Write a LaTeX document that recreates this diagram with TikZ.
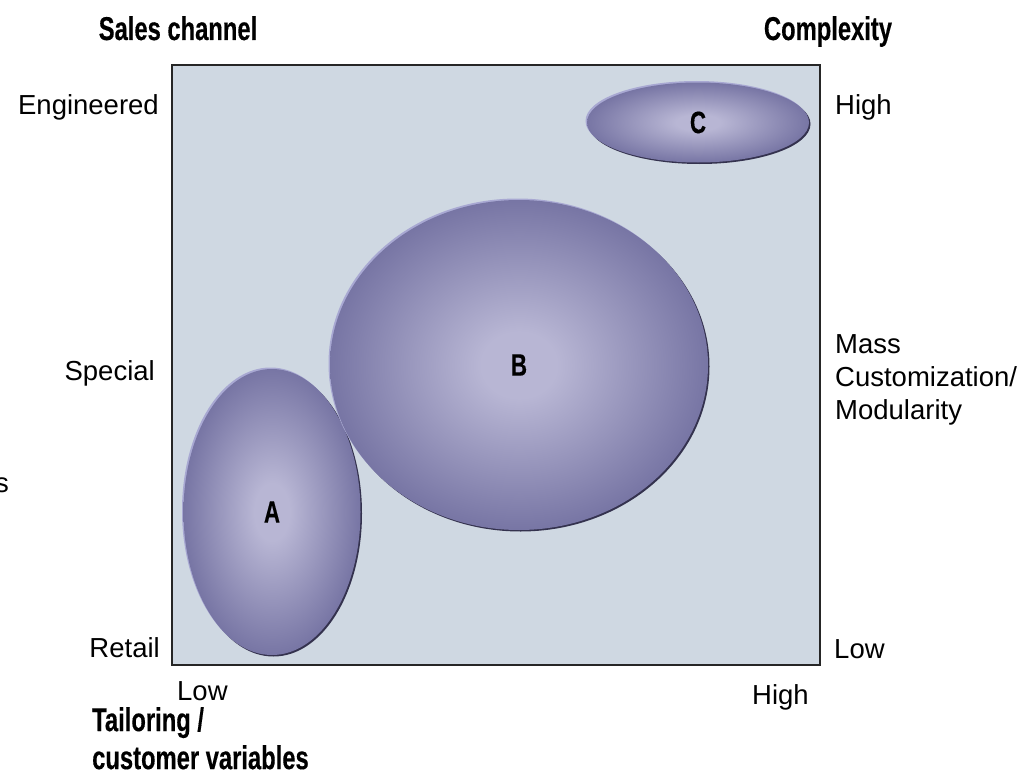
\documentclass[tikz,border=0pt]{standalone}
\usepackage{fontspec}
\setmainfont{Liberation Sans}
\newfontfamily\headfont{Liberation Sans}[FakeStretch=0.72, FakeBold=0.3]
\usetikzlibrary{shapes.geometric, positioning}
\definecolor{panelbg}{RGB}{207, 216, 226}
\definecolor{blobin}{RGB}{184, 182, 212}
\definecolor{blobout}{RGB}{100, 98, 150}
\definecolor{rimdark}{RGB}{52, 50, 78}
\definecolor{rimlight}{RGB}{168, 168, 210}
\pgfdeclareradialshading{blobshade}{\pgfpoint{0bp}{0bp}}{color(0bp)=(blobin); color(5bp)=(blobin); color(31bp)=(blobout); color(50bp)=(blobout)}

\begin{document}
\begin{tikzpicture}[
            x=1pt, y=-1pt,
            lbl/.style={inner sep=0pt, font=\fontsize{27.5}{33}\selectfont},
            head/.style={inner sep=0pt, font=\headfont\bfseries\fontsize{33}{38}\selectfont},
            blob/.style={ellipse, inner sep=0pt, shading=blobshade,
                preaction={fill=rimdark, transform canvas={shift={(1.5pt,-1.5pt)}}},
                preaction={fill=rimlight, transform canvas={shift={(-1.5pt,1.5pt)}}}},
            blobtext/.style={font=\headfont\bfseries\fontsize{31}{31}\selectfont}
        ]
            \useasboundingbox (0,0) rectangle (1028,784);
            % Panel
            \filldraw[fill=panelbg, draw=black!85, line width=1.5pt] (172,65) rectangle (820,665);

            % Blobs
            \node[blob, minimum width=177pt, minimum height=286pt] (a) at (272,512) {};
            \node[blob, minimum width=378pt, minimum height=330pt] (b) at (519,365) {};
            \node[blob, minimum width=222pt, minimum height=80pt] (c) at (698,122.5) {};
            \node[blobtext] (alab) at (a) {A};
            \node[blobtext] (blab) at (b) {B};
            \node[blobtext] (clab) at (c) {C};

            % Headings
            \node[head, anchor=base] (sales) at (178,40) {Sales channel};
            \node[head, anchor=base] (complex) at (828,40) {Complexity};
            \node[head, anchor=north west, align=left] (tailor) at (92,707) {Tailoring /\\customer variables};

            % Left scale
            \node[lbl, anchor=base east] (eng) at (159,114) {Engineered};
            \node[lbl, anchor=base east] (spec) at (155,380) {Special};
            \node[lbl, anchor=base east] (retail) at (160,657) {Retail};
            \node[lbl, anchor=base east] (cut) at (9,492) {s};

            % Right scale
            \node[lbl, anchor=base west] (rhigh) at (835,114) {High};
            \node[lbl, anchor=west, align=left] (mass) at (835,380) {Mass\\Customization/\\Modularity};
            \node[lbl, anchor=base west] (rlow) at (834,658) {Low};

            % Bottom scale
            \node[lbl, anchor=base west] (blow) at (177,700) {Low};
            \node[lbl, anchor=base west] (bhigh) at (752,704) {High};
        \end{tikzpicture}
\end{document}
